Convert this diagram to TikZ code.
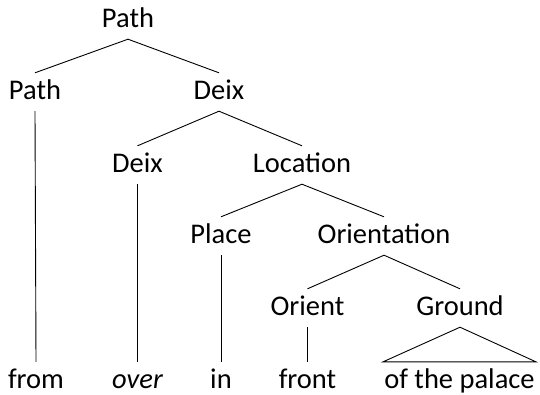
\documentclass[tikz,border=0pt]{standalone}
\usepackage{fontspec}
\setmainfont{Carlito}
\begin{document}
\begin{tikzpicture}[x=1pt,y=-1pt,
  tn/.style={anchor=base,inner xsep=1pt,inner ysep=0pt,text height=26pt,text depth=12pt,font=\fontsize{28.5}{34}\selectfont},
  br/.style={line width=0.9pt,black}]
\useasboundingbox (0,0) rectangle (540,394);
\node[tn] (root) at (128,27) {Path};
\node[tn] (path) at (35,99) {Path};
\node[tn] (deix) at (219,99) {Deix};
\node[tn] (deixb) at (137.5,172) {Deix};
\node[tn] (loc) at (302,172) {Location};
\node[tn] (place) at (221,243) {Place};
\node[tn] (orn) at (384,243) {Orientation};
\node[tn] (orient) at (307.5,315) {Orient};
\node[tn] (ground) at (460,315) {Ground};
\node[tn] (from) at (36,388) {from};
\node[tn] (over) at (137.5,388) {\itshape over};
\node[tn] (in) at (221,388) {in};
\node[tn] (front) at (307.5,388) {front};
\node[tn] (pal) at (459.5,388) {of the palace};
\draw[br] (path.north) -- (root.south) -- (deix.north);
\draw[br] (deixb.north) -- (deix.south) -- (loc.north);
\draw[br] (place.north) -- (loc.south) -- (orn.north);
\draw[br] (orient.north) -- (orn.south) -- (ground.north);
\draw[br] (path.south) -- (from.north);
\draw[br] (deixb.south) -- (over.north);
\draw[br] (place.south) -- (in.north);
\draw[br] (orient.south) -- (front.north);
\draw[br] (pal.north west) -- (ground.south) -- (pal.north east) -- cycle;
\end{tikzpicture}
\end{document}
